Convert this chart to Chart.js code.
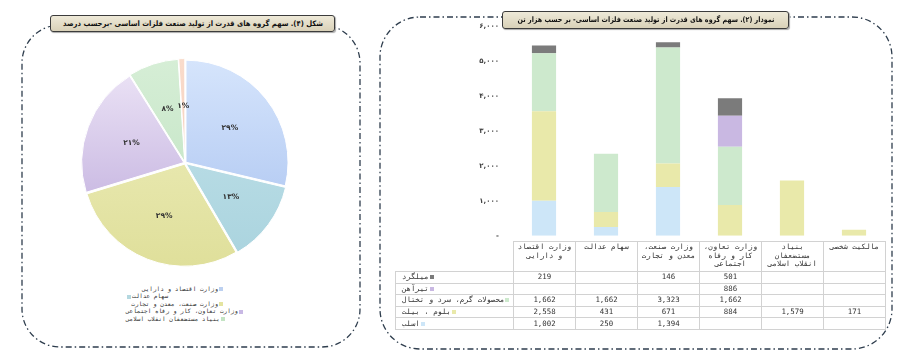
<!DOCTYPE html>
<html>
<head>
<meta charset="utf-8">
<script src="https://cdn.jsdelivr.net/npm/chart.js@4"></script>
<style>
body{margin:0;background:#fff;width:900px;height:358px;position:relative;overflow:hidden;font-family:"DejaVu Sans",sans-serif}
svg{position:absolute;left:0;top:0}
.ttl{position:absolute;background:linear-gradient(#eee9d8,#d9d1b8);border:1px solid #3c3c3c;border-radius:3px;font:bold 7.6px "DejaVu Sans";direction:rtl;color:#111;z-index:3;box-shadow:1px 1px 1px #aaa;white-space:nowrap;overflow:hidden}
.ttl span{position:absolute;left:50%;top:0;transform:translateX(-50%) scaleX(.9)}
.ttl span.n{transform:translateX(-50%) scaleX(.84)}
#pieBox{position:absolute;left:80px;top:58px;width:210px;height:210px}
#barBox{position:absolute;left:400px;top:0;width:490px;height:246px}
#pieLegend{position:absolute;left:126px;top:285px;width:98px;font:6px "DejaVu Sans Mono",monospace;color:#333;line-height:7.4px}
#pieLegend div{white-space:nowrap;text-align:right;height:7.4px}
#pieLegend span.m{display:inline-block;width:4px;height:4px;margin:0 1px;vertical-align:middle}
#tbl{position:absolute;left:395px;top:241px;border-collapse:collapse;font:7.4px "DejaVu Sans Mono",monospace;color:#333;table-layout:fixed;width:490px}
#tbl td{border:1px solid #d2d2d2;padding:0;text-align:center;height:10.6px;line-height:10px;overflow:hidden;white-space:nowrap}
#tbl tr.hd td{height:28px;line-height:8.6px;vertical-align:top;padding-top:1px}
#tbl td.lab{text-align:left;padding-left:6px}
#tbl span.m{display:inline-block;width:4px;height:4px;margin-left:1px}
</style>
</head>
<body>
<svg width="900" height="358">
  <rect x="22" y="25" width="338" height="322" rx="38" fill="none" stroke="#2e3d4d" stroke-width="1.3" stroke-dasharray="6 3 1.5 3"/>
  <rect x="380" y="17" width="512" height="332" rx="40" fill="none" stroke="#2e3d4d" stroke-width="1.3" stroke-dasharray="6 3 1.5 3"/>
</svg>
<div class="ttl" style="left:50px;top:15px;width:283px;height:15px;line-height:15px"><span>شکل (۴). سهم گروه های قدرت از تولید صنعت فلزات اساسی -برحسب درصد</span></div>
<div class="ttl" style="left:502px;top:11px;width:285px;height:16px;line-height:16px"><span class="n">نمودار (۲). سهم گروه های قدرت از تولید صنعت فلزات اساسی- بر حسب هزار تن</span></div>

<div id="pieBox"><canvas id="pie"></canvas></div>
<div id="pieLegend"></div>
<div id="barBox"><canvas id="bar"></canvas></div>
<table id="tbl"></table>

<script>
// categories (owners)
var owners=[['وزارت اقتصاد','و دارایی'],['سهام عدالت'],['وزارت صنعت،','معدن و تجارت'],['وزارت تعاون،','کار و رفاه','اجتماعی'],['بنیاد','مستضعفان','انقلاب اسلامی'],['مالکیت شخصی']];

// pie: share in percent
var sharePct=[29,13,29,21,8,1];
var pieLight=['#d6e5fc','#c4e3ea','#efefc0','#eee6f7','#d6eed6','#f9dccc'];
var pieDark=['#a6c0ef','#a9d3de','#dfdf9a','#b9a5d9','#bde1bf','#f2c4b0'];
var pieMark=['#bcd0f0','#b4d8e0','#e4e4a0','#c8b8e4','#c4e4c4','#f4cfc0'];

// bars: thousand tonnes (stack bottom -> top)
var slab=[1002,250,1394,null,null,null];
var bloom=[2558,431,671,884,1579,171];
var flat=[1662,1662,3323,1662,null,null];
var beam=[null,null,null,886,null,null];
var rebar=[219,null,146,501,null,null];
var products=['اسلب','بلوم ، بیلت','محصولات گرم، سرد و تختال','تیرآهن','میلگرد'];
var barColors=['#cde6f8','#e9e9aa','#cde9cd','#c9b8e2','#7b7b7b'];
var yTicks=[0,1000,2000,3000,4000,5000,6000];

function fa(s){return String(s).replace(/[0-9]/g,function(d){return '۰۱۲۳۴۵۶۷۸۹'[d];});}

// ---- pie
var pieLabels={
  id:'pieLabels',
  afterDatasetsDraw:function(chart){
    var c=chart.ctx, meta=chart.getDatasetMeta(0);
    c.save();
    c.font='bold 7.5px "DejaVu Sans"';
    c.fillStyle='#333';
    c.textAlign='center';c.textBaseline='middle';
    meta.data.forEach(function(arc,i){
      var p=arc.getProps(['x','y','startAngle','endAngle','outerRadius'],true);
      var a=(p.startAngle+p.endAngle)/2, r=p.outerRadius*0.56;
      c.fillText(fa(sharePct[i])+'%',p.x+Math.cos(a)*r,p.y+Math.sin(a)*r);
    });
    c.restore();
  }
};

new Chart(document.getElementById('pie'),{
  type:'pie',
  data:{
    labels:owners.map(function(o){return o.join(' ');}),
    datasets:[{
      data:sharePct,
      backgroundColor:function(ctx){
        var ch=ctx.chart, ca=ch.chartArea;
        if(!ca) return pieMark[ctx.dataIndex];
        var g=ch.ctx.createLinearGradient(0,ca.top,0,ca.bottom);
        g.addColorStop(0,pieLight[ctx.dataIndex]);
        g.addColorStop(1,pieDark[ctx.dataIndex]);
        return g;
      },
      borderColor:'#fff',
      borderWidth:1,
      offset:5
    }]
  },
  options:{
    responsive:true,maintainAspectRatio:false,animation:false,
    plugins:{legend:{display:false},tooltip:{enabled:false}}
  },
  plugins:[pieLabels]
});

// pie legend (first five owners)
var lg=document.getElementById('pieLegend');
for(var i=0;i<5;i++){
  var d=document.createElement('div');
  var t='<span dir="rtl">'+owners[i].join(' ')+'</span>';
  var m='<span class="m" style="background:'+pieMark[i]+'"></span>';
  if(i==1){d.innerHTML=m+t;d.style.textAlign='left';}
  else d.innerHTML=t+m;
  lg.appendChild(d);
}

// ---- stacked bars
var series=[slab,bloom,flat,beam,rebar];
var bc=document.getElementById('bar');
var datasets=series.map(function(s,k){
  return {
    label:products[k],
    data:s,
    backgroundColor:k==3?function(ctx){
      var el=ctx.element;
      if(!el||el.base===undefined) return barColors[3];
      var g=ctx.chart.ctx.createLinearGradient(0,el.y,0,el.base);
      g.addColorStop(0,'#f2eef9');g.addColorStop(1,'#bea9dc');
      return g;
    }:barColors[k],
    borderWidth:0,
    barPercentage:0.39,
    categoryPercentage:1
  };
});

new Chart(bc,{
  type:'bar',
  data:{labels:owners,datasets:datasets},
  options:{
    responsive:true,maintainAspectRatio:false,animation:false,
    layout:{padding:{top:26,bottom:5,left:0,right:5}},
    plugins:{legend:{display:false},tooltip:{enabled:false}},
    scales:{
      x:{stacked:true,display:false},
      y:{
        stacked:true,min:0,max:6000,
        grid:{display:false},border:{display:false},
        afterBuildTicks:function(s){s.ticks=yTicks.map(function(v){return {value:v};});},
        afterFit:function(s){s.width=113;},
        ticks:{
          padding:6,color:'#444',font:{family:'DejaVu Sans',size:7,weight:'bold'},
          callback:function(v){return v==0?'-':fa(v.toLocaleString('en-US'));}
        }
      }
    }
  }
});

// ---- data table under the bars (rows top -> bottom: rebar, beam, flat, bloom, slab)
var tb=document.getElementById('tbl');
var h='<colgroup><col style="width:118px">';
for(var c=0;c<owners.length;c++) h+='<col style="width:62px">';
h+='</colgroup><tr class="hd"><td style="border:none"></td>';
owners.forEach(function(o){h+='<td dir="rtl">'+o.join('<br>')+'</td>';});
h+='</tr>';
for(var r=series.length-1;r>=0;r--){
  h+='<tr><td class="lab"><span dir="rtl">'+products[r]+'</span><span class="m" style="background:'+barColors[r]+'"></span></td>';
  series[r].forEach(function(v){h+='<td>'+(v==null?'':v.toLocaleString('en-US'))+'</td>';});
  h+='</tr>';
}
tb.innerHTML=h;
</script>
</body>
</html>
